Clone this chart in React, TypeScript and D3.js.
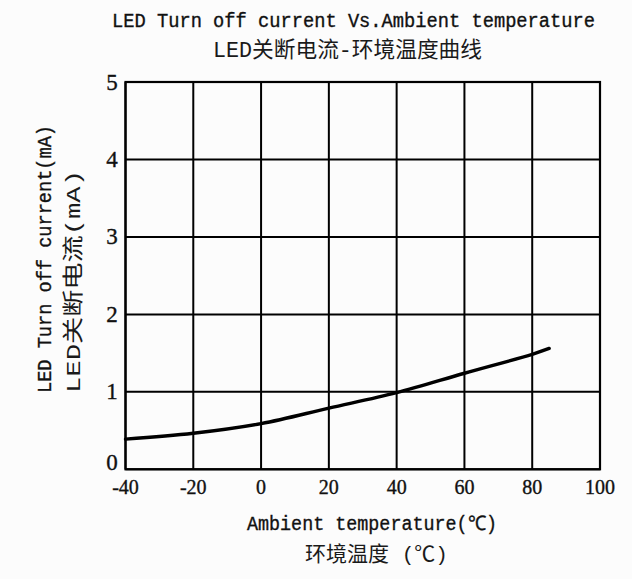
import React from "react";
import * as d3 from "d3";

const temps = [-40, -20, 0, 20, 40, 60, 80, 85];
const currents = [0.39, 0.465, 0.59, 0.79, 0.99, 1.24, 1.485, 1.56];
const xTicks = [-40, -20, 0, 20, 40, 60, 80, 100];
const yTicks = [0, 1, 2, 3, 4, 5];
const titleLines = ["LED Turn off current Vs.Ambient temperature", "LED关断电流-环境温度曲线"];
const yLabelLines = ["LED Turn off current(mA)", "LED关断电流(mA)"];
const xLabelLines = ["Ambient temperature(℃)", "环境温度 (℃)"];

const W = 632, H = 579;
const M = { left: 125.5, right: 600, top: 82, bottom: 469.3 };

export default function App() {
  const x = d3.scaleLinear().domain([-40, 100]).range([M.left, M.right]);
  const y = d3.scaleLinear().domain([0, 5]).range([M.bottom, M.top]);
  const pts = temps.map((t, i) => [t, currents[i]] as [number, number]);
  const line = d3.line<[number, number]>().x(d => x(d[0])).y(d => y(d[1])).curve(d3.curveCatmullRom.alpha(0.5));
  const mono = "'Liberation Mono', 'DejaVu Sans Mono', monospace";
  const cjk = "'Liberation Mono', 'Noto Sans CJK SC', sans-serif";
  const serif = "'Liberation Serif', 'DejaVu Serif', serif";
  const ts = { fill: "#111", stroke: "#111", strokeWidth: 0.35 };
  const tc = { fill: "#1a1a1a" };
  return (
    <svg width={W} height={H} style={{ position: "absolute", left: 0, top: 0, background: "#fcfcfc" }}>
      <rect x={0} y={0} width={W} height={H} fill="#fcfcfc" />
      {xTicks.map(t => (
        <line key={"gx" + t} x1={x(t)} x2={x(t)} y1={M.top} y2={M.bottom} stroke="#000" strokeWidth={2} />
      ))}
      {yTicks.map(t => (
        <line key={"gy" + t} x1={M.left} x2={M.right} y1={y(t)} y2={y(t)} stroke="#000" strokeWidth={2} />
      ))}
      <rect x={M.left} y={M.top} width={M.right - M.left} height={M.bottom - M.top} fill="none" stroke="#000" strokeWidth={2.2} />
      <path d={line(pts) || ""} fill="none" stroke="#000" strokeWidth={3.4} strokeLinecap="round" />
      {yTicks.map(t => (
        <text key={"ty" + t} x={112} y={y(t) + (t === 0 ? 1 : 7.5)} textAnchor="middle" fontFamily={serif} fontSize={23} {...ts}>{t}</text>
      ))}
      {xTicks.map(t => (
        <text key={"tx" + t} x={x(t)} y={494} textAnchor="middle" fontFamily={serif} fontSize={20} {...ts}>{t < 0 ? "-" + Math.abs(t) : t}</text>
      ))}
      <text x={112} y={27} fontFamily={mono} fontSize={19.5} textLength={483} lengthAdjust="spacingAndGlyphs" {...ts}>{titleLines[0]}</text>
      <text x={213} y={57} fontFamily={cjk} fontSize={22} textLength={269} lengthAdjust="spacingAndGlyphs" {...tc}>{titleLines[1]}</text>
      <text transform="translate(51,393) rotate(-90)" fontFamily={mono} fontSize={20} textLength={268} lengthAdjust="spacingAndGlyphs" {...ts}>{yLabelLines[0]}</text>
      <text transform="translate(80,393) rotate(-90)" fontFamily={cjk} fontSize={21} textLength={223} lengthAdjust="spacingAndGlyphs" {...tc}>{yLabelLines[1]}</text>
      <text x={247} y={530} fontFamily={mono} fontSize={20} textLength={250} lengthAdjust="spacingAndGlyphs" {...ts}>{xLabelLines[0]}</text>
      <text x={305} y={561} fontFamily={cjk} fontSize={21} textLength={143} lengthAdjust="spacingAndGlyphs" {...tc}>{xLabelLines[1]}</text>
    </svg>
  );
}
